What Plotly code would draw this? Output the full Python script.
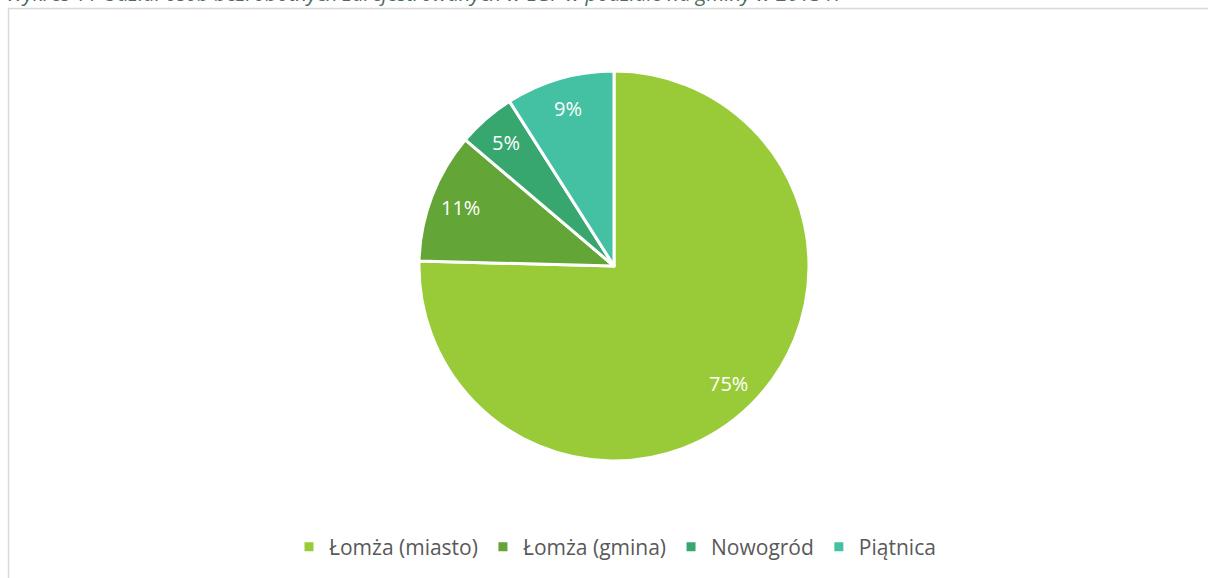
import math
import plotly.graph_objects as go

# dane (udział %)
gminy = ['Łomża (miasto)', 'Łomża (gmina)', 'Nowogród', 'Piątnica']
udzial = [75.4, 10.8, 4.8, 9.0]
kolory = ['#99CB38', '#63A537', '#37A76F', '#44C1A3']
tytul = 'Wykres 11 Udział osób bezrobotnych zarejestrowanych w LGF w podziale na gminy w 2013 r.'

W, H = 1208, 578
cx, cy, r = 614, 266, 195

fig = go.Figure()

fig.add_trace(go.Pie(
    labels=gminy,
    values=udzial,
    sort=False,
    direction='clockwise',
    rotation=0,
    marker=dict(colors=kolory, line=dict(color='white', width=3)),
    textinfo='none',
    hoverinfo='label+percent',
    domain=dict(
        x=[(cx - r) / W, (cx + r) / W],
        y=[(H - cy - r) / H, (H - cy + r) / H],
    ),
))

# etykiety procentowe jak w Excelu - na dwusiecznej, blisko krawędzi
suma = sum(udzial)
narast = 0
for v in udzial:
    kat = 2 * math.pi * (narast + v / 2) / suma
    narast += v
    px = cx + 0.84 * r * math.sin(kat)
    py = cy - 0.84 * r * math.cos(kat)
    fig.add_annotation(
        text=f'{round(100 * v / suma)}%',
        xref='paper', yref='paper',
        x=px / W, y=(H - py) / H,
        xanchor='center', yanchor='middle',
        showarrow=False,
        font=dict(color='white', size=20, family='Open Sans'),
    )

# ramka wykresu
fig.add_shape(
    type='rect', xref='paper', yref='paper',
    x0=8.5 / W, x1=1.02, y0=-0.02, y1=(H - 8.5) / H,
    line=dict(color='#D9D9D9', width=1.5),
)

# tytuł (przycięty u góry jak w oryginale)
fig.add_annotation(
    text='<i>' + tytul + '</i>',
    xref='paper', yref='paper',
    x=4 / W, y=(H - 9) / H,
    xanchor='left', yanchor='bottom',
    showarrow=False,
    font=dict(size=20.5, color='#4D6B5E', family='Open Sans'),
)

fig.update_layout(
    width=W, height=H,
    margin=dict(l=0, r=0, t=0, b=0),
    paper_bgcolor='white',
    plot_bgcolor='white',
    showlegend=True,
    legend=dict(
        orientation='h',
        x=615 / W, xanchor='center',
        y=(H - 547) / H, yanchor='middle',
        font=dict(size=21, color='#595959', family='Open Sans'),
        itemwidth=30,
        traceorder='normal',
    ),
)

fig.write_html('out.html', config={'displayModeBar': False},
               post_script="document.body.style.margin='0';")
